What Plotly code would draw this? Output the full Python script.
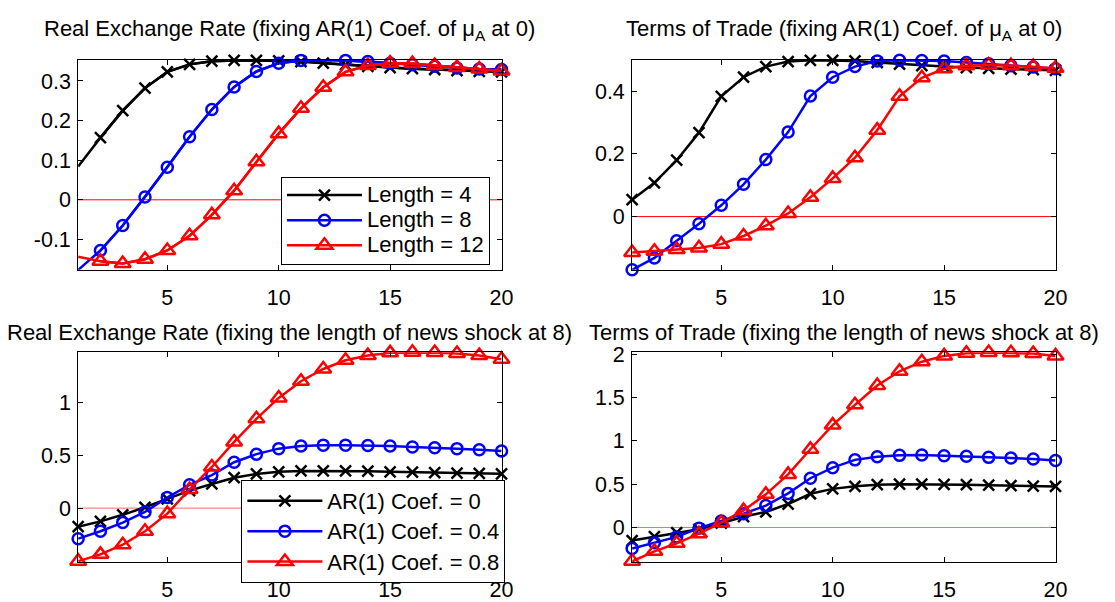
import plotly.graph_objects as go

periods = list(range(1, 21))

# Top-left: Real Exchange Rate (fixing AR(1) coef. of mu_A at 0)
rer_len4 = [0.084, 0.157, 0.225, 0.282, 0.323, 0.342, 0.350, 0.352, 0.352, 0.351,
            0.349, 0.345, 0.341, 0.337, 0.334, 0.331, 0.329, 0.326, 0.324, 0.323]
rer_len8 = [-0.177, -0.128, -0.065, 0.007, 0.082, 0.159, 0.228, 0.285, 0.324, 0.345,
            0.352, 0.353, 0.352, 0.349, 0.345, 0.341, 0.337, 0.333, 0.330, 0.329]
rer_len12 = [-0.144, -0.155, -0.161, -0.150, -0.128, -0.091, -0.038, 0.023, 0.096, 0.167,
             0.231, 0.284, 0.323, 0.339, 0.345, 0.344, 0.339, 0.334, 0.330, 0.325]

# Top-right: Terms of Trade (fixing AR(1) coef. of mu_A at 0)
tot_len4 = [0.054, 0.108, 0.180, 0.268, 0.384, 0.445, 0.479, 0.495, 0.499, 0.499,
            0.497, 0.492, 0.487, 0.482, 0.479, 0.476, 0.473, 0.471, 0.469, 0.467]
tot_len8 = [-0.170, -0.132, -0.077, -0.023, 0.036, 0.103, 0.182, 0.270, 0.385, 0.445,
            0.479, 0.497, 0.4995, 0.4985, 0.497, 0.492, 0.488, 0.482, 0.478, 0.472]
tot_len12 = [-0.115, -0.111, -0.105, -0.100, -0.088, -0.062, -0.029, 0.010, 0.062, 0.122,
             0.188, 0.276, 0.384, 0.443, 0.472, 0.482, 0.484, 0.482, 0.479, 0.474]

# Bottom-left: Real Exchange Rate (fixing the length of news shock at 8)
rer_ar0 = [-0.175, -0.125, -0.063, 0.008, 0.087, 0.165, 0.228, 0.287, 0.322, 0.343,
           0.351, 0.352, 0.351, 0.348, 0.343, 0.339, 0.335, 0.330, 0.327, 0.324]
rer_ar04 = [-0.288, -0.218, -0.136, -0.036, 0.100, 0.220, 0.312, 0.433, 0.509, 0.561,
            0.585, 0.594, 0.594, 0.591, 0.585, 0.576, 0.570, 0.561, 0.550, 0.539]
rer_ar08 = [-0.500, -0.436, -0.345, -0.218, -0.052, 0.176, 0.388, 0.624, 0.842, 1.039,
            1.197, 1.312, 1.394, 1.439, 1.464, 1.469, 1.467, 1.458, 1.439, 1.403]

# Bottom-right: Terms of Trade (fixing the length of news shock at 8)
tot_ar0 = [-0.150, -0.105, -0.060, -0.020, 0.050, 0.125, 0.180, 0.271, 0.390, 0.446,
           0.476, 0.494, 0.500, 0.500, 0.498, 0.494, 0.489, 0.484, 0.479, 0.474]
tot_ar04 = [-0.242, -0.175, -0.108, -0.007, 0.074, 0.160, 0.253, 0.394, 0.569, 0.691,
            0.781, 0.818, 0.833, 0.836, 0.829, 0.822, 0.810, 0.803, 0.792, 0.773]
tot_ar08 = [-0.390, -0.275, -0.182, -0.071, 0.056, 0.197, 0.383, 0.613, 0.903, 1.182,
            1.416, 1.639, 1.803, 1.914, 1.981, 2.011, 2.020, 2.018, 2.008, 1.981]

len_names = ["Length = 4", "Length = 8", "Length = 12"]
ar_names = ["AR(1) Coef. = 0", "AR(1) Coef. = 0.4", "AR(1) Coef. = 0.8"]

titles = [
    "Real Exchange Rate (fixing AR(1) Coef. of \u03bc<sub>A</sub> at 0)",
    "Terms of Trade (fixing AR(1) Coef. of \u03bc<sub>A</sub> at 0)",
    "Real Exchange Rate (fixing the length of news shock at 8)",
    "Terms of Trade (fixing the length of news shock at 8)",
]

x_ticks = [5, 10, 15, 20]
x_ticktext = ["5", "10", "15", "20"]
y_ticks_tl = [-0.1, 0, 0.1, 0.2, 0.3]
y_ticktext_tl = ["-0.1", "0", "0.1", "0.2", "0.3"]
y_ticks_tr = [0, 0.2, 0.4]
y_ticktext_tr = ["0", "0.2", "0.4"]
y_ticks_bl = [0, 0.5, 1]
y_ticktext_bl = ["0", "0.5", "1"]
y_ticks_br = [0, 0.5, 1, 1.5, 2]
y_ticktext_br = ["0", "0.5", "1", "1.5", "2"]

W, H = 1115, 602
FONT = "Liberation Sans, Arial, sans-serif"

colors = ["#000000", "#0000ff", "#ff0000"]
symbols = ["x-thin-open", "circle-open", "triangle-up-open"]
msizes = [11, 11, 14]
LW = 2.5

fig = go.Figure()

def add_panel(series, names, xa, ya, legend, skip_first_marker, legend_text_px=None):
    for i, ys in enumerate(series):
        if skip_first_marker:
            fig.add_trace(go.Scatter(
                x=periods, y=ys, mode="lines", xaxis=xa, yaxis=ya,
                line=dict(color=colors[i], width=LW), showlegend=False,
                hoverinfo="skip", cliponaxis=False))
            xs, yv = periods[1:], ys[1:]
        else:
            xs, yv = periods, ys
        label = names[i]
        if legend_text_px:
            label = '<span style="font-size:%dpx">%s</span>' % (legend_text_px, label)
        fig.add_trace(go.Scatter(
            x=xs, y=yv, mode="lines+markers", xaxis=xa, yaxis=ya,
            name=label, legend=legend, showlegend=legend is not None,
            line=dict(color=colors[i], width=LW),
            marker=dict(symbol=symbols[i], size=msizes[i], color=colors[i],
                        line=dict(color=colors[i], width=2.5)),
            cliponaxis=False))

add_panel([rer_len4, rer_len8, rer_len12], len_names, "x", "y", "legend", True, 22)
add_panel([tot_len4, tot_len8, tot_len12], len_names, "x2", "y2", None, False)
add_panel([rer_ar0, rer_ar04, rer_ar08], ar_names, "x3", "y3", "legend2", False, 22)
add_panel([tot_ar0, tot_ar04, tot_ar08], ar_names, "x4", "y4", None, False)

# domains in pixels
col1 = (79, 507)
col2 = (639, 1067)
row1 = (51.7, 268.3)
row2 = (353.5, 570)

def xd(c):
    return [c[0] / W, c[1] / W]

def yd(r):
    return [1 - r[1] / H, 1 - r[0] / H]

axis_common = dict(showline=True, linecolor="black", linewidth=1, mirror="ticks",
                   ticks="inside", ticklen=5, tickwidth=1, tickcolor="black",
                   showgrid=False, zeroline=False,
                   tickfont=dict(family=FONT, size=21.5, color="black"))

layout = dict(
    width=W, height=H, autosize=False,
    margin=dict(l=0, r=0, t=0, b=0, pad=0),
    paper_bgcolor="white", plot_bgcolor="white",
    font=dict(family=FONT, color="black"),
)
yranges = [[-0.1768, 0.3528], [-0.170, 0.4998], [-0.508, 1.469], [-0.398, 2.022]]
yticks = [(y_ticks_tl, y_ticktext_tl), (y_ticks_tr, y_ticktext_tr),
          (y_ticks_bl, y_ticktext_bl), (y_ticks_br, y_ticktext_br)]
cols = [col1, col2, col1, col2]
rows = [row1, row1, row2, row2]
for k in range(4):
    sx = "xaxis" if k == 0 else "xaxis%d" % (k + 1)
    sy = "yaxis" if k == 0 else "yaxis%d" % (k + 1)
    anchor_y = "y" if k == 0 else "y%d" % (k + 1)
    anchor_x = "x" if k == 0 else "x%d" % (k + 1)
    layout[sx] = dict(axis_common, domain=xd(cols[k]), range=[1, 20], anchor=anchor_y,
                      tickvals=x_ticks, ticktext=x_ticktext, ticklabelstandoff=8)
    layout[sy] = dict(axis_common, domain=yd(rows[k]), range=yranges[k], anchor=anchor_x,
                      tickvals=yticks[k][0], ticktext=yticks[k][1], ticklabelstandoff=2)

layout["legend"] = dict(x=284 / W, y=1 - 172 / H, xanchor="left", yanchor="top",
                        bgcolor="white", bordercolor="black", borderwidth=1,
                        font=dict(family=FONT, size=17, color="black"),
                        itemwidth=75, tracegroupgap=0)
layout["legend2"] = dict(x=244 / W, y=1 - 485 / H, xanchor="left", yanchor="top",
                         bgcolor="white", bordercolor="black", borderwidth=1,
                         font=dict(family=FONT, size=21, color="black"),
                         itemwidth=75, tracegroupgap=0)

annotations = []
title_tops = [4.1, 4.1, 318.0, 318.0]
for k in range(4):
    c = cols[k]
    annotations.append(dict(text=titles[k], xref="paper", yref="paper",
                            x=(c[0] + c[1]) / 2 / W, y=1 - title_tops[k] / H,
                            xanchor="center", yanchor="top", showarrow=False,
                            font=dict(family=FONT, size=22, color="black")))
layout["annotations"] = annotations
fig.update_layout(**layout)

zero_colors = ["#ff0000", "#ff0000", "#ff6a6a", "#ff6a6a"]
for k in range(4):
    xa = "x" if k == 0 else "x%d" % (k + 1)
    ya = "y" if k == 0 else "y%d" % (k + 1)
    fig.add_shape(type="line", xref=xa, yref=ya, x0=1, x1=20, y0=0, y1=0,
                  line=dict(color=zero_colors[k], width=1), layer="below")

fig.write_html("out.html")
